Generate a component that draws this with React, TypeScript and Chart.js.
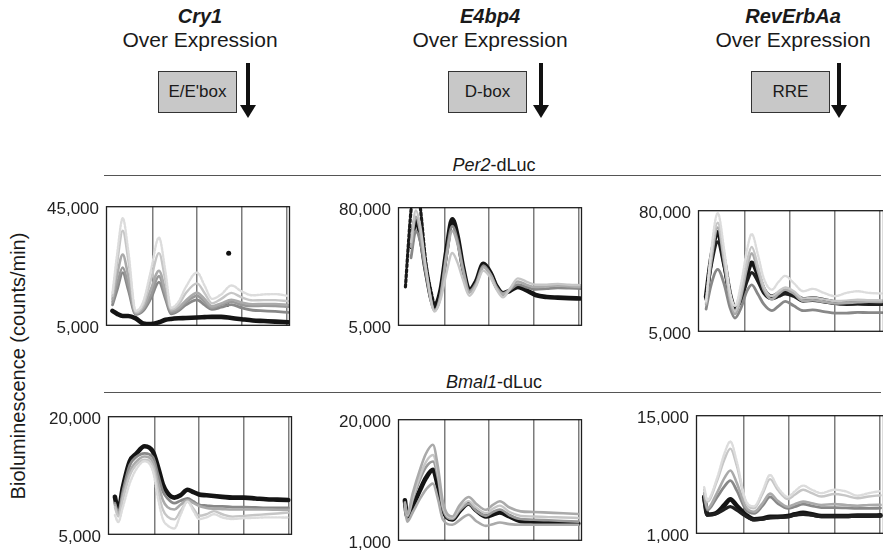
import React, { useEffect, useRef } from "react";
import { Chart, registerables } from "chart.js";
Chart.register(...registerables);

const FONT = '"Liberation Sans", Arial, Helvetica, sans-serif';

// ---------- shared axis data ----------
const GRID_HOURS = [24, 48, 72, 96];
const X_MIN = -1;
const X_MAX = 98;

// ---------- Panel 1: Cry1 over-expression, Per2-dLuc ----------
const p1Hours = [2.5, 5, 8, 11, 15, 19, 23, 27.5, 31, 34, 38, 42, 48, 52, 56, 61, 66.5, 72, 78, 84, 90, 97];
const p1Lightest = [16000, 29000, 41000, 30000, 10000, 13000, 23000, 34500, 23000, 11000, 13000, 18000, 22800, 18500, 14000, 15500, 18500, 16500, 15200, 15500, 15600, 15000];
const p1Light = [15000, 26000, 36800, 27000, 9500, 12000, 20000, 29300, 20000, 10500, 12000, 16000, 19200, 16000, 12500, 14000, 16000, 14500, 13500, 13600, 13600, 13200];
const p1Mid = [14000, 22000, 28800, 21500, 9200, 11000, 17000, 23400, 16500, 10000, 11000, 13500, 16000, 14000, 11500, 12500, 13700, 12800, 12200, 12300, 12300, 12000];
const p1Mid2 = [13000, 19000, 24500, 18500, 9000, 10500, 15000, 21600, 15000, 9500, 10500, 12800, 15000, 13000, 11000, 12000, 13000, 12000, 11600, 11700, 11600, 11400];
const p1Dark = [12000, 17000, 22800, 17000, 8800, 10000, 14000, 19600, 14000, 9000, 10000, 12000, 13700, 12000, 10500, 11200, 12100, 11000, 10200, 10000, 9800, 9500];
const p1Black = [10000, 9000, 8300, 8300, 7500, 5800, 5600, 6200, 7000, 7300, 7500, 7600, 7800, 7900, 8000, 8000, 7600, 7200, 6800, 6600, 6400, 6200];
const p1OutlierHours = [64, 65];
const p1OutlierValues = [12100, 29300];

// ---------- Panel 2: E4bp4 over-expression, Per2-dLuc ----------
const p2Hours = [3, 6, 8.6, 11, 14, 18.7, 22, 25, 28.2, 31, 34, 37.4, 41, 44.9, 49, 52, 55.5, 59, 63.5, 68, 73, 79, 85, 91, 97];
const p2Light = [null, 58000, 78000, 68000, 42000, 14000, 22000, 38000, 51000, 45000, 34000, 24000, 30000, 40000, 35000, 28000, 23000, 28000, 35000, 33000, 31000, 31000, 31500, 31000, 30700];
const p2Mid = [null, 55000, 74000, 64000, 40000, 14500, 24000, 48000, 65000, 57000, 40000, 26000, 31000, 42000, 37000, 29000, 25000, 28000, 33000, 31000, 29500, 30000, 30500, 30000, 29500];
const p2Dark = [null, 48000, 65000, 58000, 38000, 15000, 25000, 50000, 68000, 59000, 41000, 27000, 32000, 43000, 37000, 29500, 25500, 27500, 31000, 29500, 28000, 28500, 29000, 28800, 28500];
const p2Black = [null, 55000, 72300, 62000, 40000, 17500, 28000, 52000, 72300, 62000, 42000, 27600, 33000, 44200, 38000, 30000, 25600, 27000, 29600, 27500, 24500, 23200, 22800, 22500, 22300];
const p2BlackDots = [29600, 78000, 100000, 80000, 45000, 16000, null, null, null, null, null, null, null, null, null, null, null, null, null, null, null, null, null, null, null];

// ---------- Panel 3: RevErbAa over-expression, Per2-dLuc ----------
const p3Hours = [3.3, 6, 9.5, 13, 16, 18.7, 22, 25, 27.6, 31, 34, 38.3, 42, 45.4, 50, 55, 60, 66, 72, 78, 84, 90, 97];
const p3Lightest = [24000, 55000, 78200, 55000, 30000, 21000, 35000, 55000, 65300, 52000, 38000, 31000, 36000, 39500, 35000, 30000, 31500, 29000, 27000, 29000, 30000, 29000, 28600];
const p3Light = [23000, 52000, 72300, 50000, 27000, 18000, 30000, 48000, 57400, 45000, 33000, 27000, 30000, 32400, 30000, 25500, 26000, 25000, 24000, 24200, 24800, 24500, 24400];
const p3Mid = [22000, 48000, 69300, 47000, 25000, 16000, 27000, 44000, 53400, 42000, 31000, 25000, 28500, 31000, 28500, 24000, 24500, 23500, 22500, 22800, 23200, 23500, 23400];
const p3Dark = [19000, 34000, 43500, 34000, 20000, 13500, 20000, 30000, 34000, 28000, 22000, 18000, 21000, 23800, 21000, 18000, 18500, 17500, 16500, 16500, 17000, 16800, 16800];
const p3Black2 = [25000, 46000, 60400, 45000, 27000, 20000, 25000, 36000, 41500, 36000, 29000, 25500, 27000, 28500, 27000, 24000, 24500, 23500, 22500, 22000, 22200, 22000, 22000];
const p3Black = [26600, 50000, 66300, 48000, 28000, 19700, 26000, 40000, 47500, 40000, 31000, 26600, 28500, 30000, 28000, 25000, 25500, 24500, 23000, 22600, 22800, 22600, 22600];

// ---------- Panel 4: Cry1 over-expression, Bmal1-dLuc ----------
const p4Hours = [2.7, 4.5, 7, 10.7, 14, 18.7, 23.2, 26, 28.5, 31, 34.7, 38, 41.8, 45, 48, 52, 56, 60.5, 66, 72, 78.3, 84, 90, 96];
const p4Lightest = [7500, 6600, 8500, 11500, 13200, 14300, 13000, 9500, 7000, 6200, 5800, 7500, 9200, 8000, 7000, 7200, 7600, 7200, 7000, 7100, 7150, 7200, 7200, 7190];
const p4Light = [8500, 7300, 9500, 12500, 13800, 14500, 13600, 10500, 8200, 7300, 6950, 8000, 9200, 8300, 7400, 7600, 8000, 7600, 7300, 7400, 7500, 7600, 7700, 7800];
const p4Mid = [8800, 7600, 10000, 13000, 14200, 14900, 14200, 11500, 9400, 8500, 8200, 8800, 9400, 9000, 8650, 8400, 8300, 8250, 8200, 8200, 8200, 8200, 8170, 8150];
const p4Dark = [9000, 7800, 10500, 13800, 14800, 15300, 14800, 12500, 10500, 9600, 9000, 9300, 9600, 9200, 8800, 8700, 8600, 8600, 8500, 8500, 8450, 8400, 8400, 8400];
const p4Black = [9800, 8000, 11000, 14300, 15200, 16200, 15500, 13500, 11400, 10300, 9700, 10000, 10700, 10400, 10100, 10000, 9900, 9800, 9700, 9700, 9600, 9500, 9450, 9400];

// ---------- Panel 5: E4bp4 over-expression, Bmal1-dLuc ----------
const p5Hours = [2.7, 4, 7, 10.7, 14, 17.8, 20.5, 23.2, 28.2, 32, 37, 41, 46.3, 50, 53.8, 59, 65, 72, 80, 88, 96];
const p5Top = [7000, 5200, 8500, 12000, 14600, 16000, 12500, 7000, 4800, 6500, 7850, 6800, 5830, 6600, 7180, 6200, 5600, 5500, 5400, 5300, 5180];
const p5Light = [6800, 5000, 7800, 11000, 13300, 14400, 11500, 6400, 4600, 6000, 7200, 6200, 5300, 6000, 6500, 5500, 4900, 4800, 4700, 4650, 4560];
const p5Mid = [6600, 4800, 7500, 10500, 12500, 13400, 10800, 6000, 4400, 5700, 6800, 5700, 4900, 5500, 5900, 5000, 4400, 4300, 4200, 4100, 4000];
const p5Bottom = [6000, 4000, 5500, 7500, 9000, 9940, 7500, 4300, 3500, 4200, 5080, 4100, 3330, 3600, 3860, 3600, 3500, 3500, 3500, 3500, 3510];
const p5Black = [7330, 4800, 6500, 8840, 10800, 12100, 9500, 5830, 4320, 5600, 6830, 5800, 4810, 5100, 5420, 4800, 4070, 4000, 3900, 3800, 3710];

// ---------- Panel 6: RevErbAa over-expression, Bmal1-dLuc ----------
const p6Hours = [3.3, 5, 10, 14, 17.1, 20.5, 25.1, 29.6, 34, 38, 42, 47.4, 51, 55.4, 60, 65, 72, 78, 84, 90, 96.2];
const p6Lightest = [6500, 5000, 7500, 10500, 11890, 9500, 5000, 4240, 6000, 7940, 6500, 5360, 6000, 6690, 6200, 5800, 6200, 6000, 5500, 5800, 6050];
const p6Light = [6200, 4800, 7200, 9800, 11060, 9000, 4800, 4000, 5700, 7450, 6200, 5100, 5600, 6200, 5800, 5400, 5700, 5500, 5200, 5400, 5550];
const p6Mid = [5800, 4000, 5800, 7600, 8480, 7000, 4200, 3600, 4600, 5740, 4900, 4200, 4500, 4800, 4600, 4400, 4500, 4400, 4300, 4400, 4410];
const p6Dark = [5500, 3800, 5300, 6600, 7270, 6100, 3900, 3400, 4300, 5360, 4600, 4000, 4200, 4500, 4300, 4100, 4100, 4050, 4000, 4000, 4030];
const p6Black2 = [5000, 3200, 3400, 3900, 4210, 3800, 3100, 2650, 2750, 2900, 2950, 3000, 3200, 3300, 3200, 3050, 3050, 3050, 3100, 3100, 3100];
const p6Black = [5360, 3280, 3500, 4400, 5060, 4300, 3280, 2710, 2800, 3000, 3000, 3090, 3300, 3470, 3300, 3100, 3100, 3100, 3150, 3150, 3170];

// ---------- text ----------
const TITLES = ["Cry1", "E4bp4", "RevErbAa"];
const ELEMENTS = ["E/E'box", "D-box", "RRE"];
const REPORTERS = [
  { italic: "Per2", rest: "-dLuc" },
  { italic: "Bmal1", rest: "-dLuc" },
];
const Y_TITLE = "Bioluminescence (counts/min)";

// ---------- styles ----------
type Sty = { color: string; width: number; dash?: number[] };
const S: Record<string, Sty> = {
  lightest: { color: "#dcdcdc", width: 2.4, dash: [2, 1.5] },
  light: { color: "#c6c6c6", width: 2.4 },
  mid: { color: "#aaaaaa", width: 2.6 },
  mid2: { color: "#999999", width: 2.6 },
  dark: { color: "#888888", width: 2.8 },
  black: { color: "#141414", width: 4.6 },
  black2: { color: "#202020", width: 3.4 },
  blackDots: { color: "#1a1a1a", width: 3.2, dash: [2.5, 2.5] },
};

type Series = { data: (number | null)[]; style: Sty };
type PanelSpec = {
  left: number; top: number; width: number; height: number;
  yMin: number; yMax: number;
  hours: number[];
  series: Series[];
  outliers?: { hours: number[]; values: number[] };
};

const PANELS: PanelSpec[] = [
  {
    left: 106, top: 203, width: 186, height: 124, yMin: 5000, yMax: 45000, hours: p1Hours,
    series: [
      { data: p1Lightest, style: S.lightest }, { data: p1Light, style: S.light },
      { data: p1Mid, style: S.mid }, { data: p1Mid2, style: S.mid2 },
      { data: p1Dark, style: S.dark }, { data: p1Black, style: S.black },
    ],
    outliers: { hours: p1OutlierHours, values: p1OutlierValues },
  },
  {
    left: 398, top: 204, width: 184, height: 123, yMin: 5000, yMax: 80000, hours: p2Hours,
    series: [
      { data: p2Light, style: S.light }, { data: p2Mid, style: S.mid },
      { data: p2Dark, style: S.dark }, { data: p2BlackDots, style: S.blackDots },
      { data: p2Black, style: S.black },
    ],
  },
  {
    left: 698, top: 207, width: 186, height: 126, yMin: 5000, yMax: 80000, hours: p3Hours,
    series: [
      { data: p3Lightest, style: S.lightest }, { data: p3Light, style: S.light },
      { data: p3Mid, style: S.mid }, { data: p3Dark, style: S.dark },
      { data: p3Black2, style: S.black2 }, { data: p3Black, style: S.black },
    ],
  },
  {
    left: 108, top: 413, width: 184, height: 123, yMin: 5000, yMax: 20000, hours: p4Hours,
    series: [
      { data: p4Lightest, style: S.lightest }, { data: p4Light, style: S.light },
      { data: p4Mid, style: S.mid }, { data: p4Dark, style: S.dark },
      { data: p4Black, style: S.black },
    ],
  },
  {
    left: 398, top: 416, width: 184, height: 126, yMin: 1000, yMax: 20000, hours: p5Hours,
    series: [
      { data: p5Top, style: S.mid }, { data: p5Light, style: S.light },
      { data: p5Mid, style: S.mid2 }, { data: p5Bottom, style: S.mid },
      { data: p5Black, style: S.black },
    ],
  },
  {
    left: 696, top: 412, width: 188, height: 123, yMin: 1000, yMax: 15000, hours: p6Hours,
    series: [
      { data: p6Lightest, style: S.lightest }, { data: p6Light, style: S.light },
      { data: p6Mid, style: S.mid }, { data: p6Dark, style: S.dark },
      { data: p6Black2, style: S.black2 }, { data: p6Black, style: S.black },
    ],
  },
];

const Y_AXIS_W = 100;
const PAD_T = 14;
const PAD_B = 16;
const PAD_R = 2;

const boxPlugin = {
  id: "plotBox",
  afterDatasetsDraw(chart: any) {
    const { ctx, chartArea: a } = chart;
    ctx.save();
    ctx.strokeStyle = "#1e1e1e";
    ctx.lineWidth = 1.3;
    ctx.strokeRect(a.left + 0.5, a.top + 0.5, a.right - a.left - 1, a.bottom - a.top - 1);
    ctx.restore();
  },
};

function Panel({ spec }: { spec: PanelSpec }) {
  const ref = useRef<HTMLCanvasElement | null>(null);
  const cw = Y_AXIS_W + spec.width + PAD_R;
  const ch = PAD_T + spec.height + PAD_B;
  useEffect(() => {
    if (!ref.current) return;
    const datasets: any[] = spec.series.map((s) => ({
      data: spec.hours.map((h, i) => ({ x: h, y: s.data[i] })),
      borderColor: s.style.color,
      borderWidth: s.style.width,
      borderDash: s.style.dash || [],
      borderCapStyle: "round",
      borderJoinStyle: "round",
      pointRadius: 0,
      cubicInterpolationMode: "monotone",
      spanGaps: false,
      fill: false,
    }));
    if (spec.outliers) {
      datasets.push({
        data: spec.outliers.hours.map((h, i) => ({ x: h, y: spec.outliers!.values[i] })),
        showLine: false,
        pointRadius: 2.5,
        pointBackgroundColor: "#111",
        pointBorderColor: "#111",
        borderWidth: 0,
      });
    }
    const chart = new Chart(ref.current, {
      type: "line",
      data: { datasets },
      options: {
        animation: false,
        responsive: false,
        maintainAspectRatio: false,
        events: [],
        layout: { padding: { top: PAD_T, right: PAD_R, bottom: PAD_B, left: 0 } },
        plugins: { legend: { display: false }, tooltip: { enabled: false } },
        scales: {
          x: {
            type: "linear",
            min: X_MIN,
            max: X_MAX,
            afterBuildTicks: (ax: any) => { ax.ticks = GRID_HOURS.map((v) => ({ value: v })); },
            afterFit: (ax: any) => { ax.height = 0; },
            ticks: { display: false },
            grid: { color: "#7c7c7c", lineWidth: 1.5, drawTicks: false },
            border: { display: false },
          },
          y: {
            type: "linear",
            min: spec.yMin,
            max: spec.yMax,
            afterBuildTicks: (ax: any) => { ax.ticks = [{ value: spec.yMin }, { value: spec.yMax }]; },
            afterFit: (ax: any) => { ax.width = Y_AXIS_W; },
            ticks: {
              font: { family: FONT, size: 17 },
              color: "#222",
              padding: 7,
              labelOffset: 3,
              callback: (v: any) => Number(v).toLocaleString("en-US"),
            },
            grid: { display: false, drawTicks: false },
            border: { display: false },
          },
        },
      },
      plugins: [boxPlugin],
    } as any);
    return () => chart.destroy();
  }, [spec]);
  return (
    <canvas
      ref={ref}
      width={cw}
      height={ch}
      style={{
        position: "absolute",
        left: spec.left - Y_AXIS_W,
        top: spec.top - PAD_T,
        width: cw,
        height: ch,
      }}
    />
  );
}

const TITLE_CX = [200, 490, 793];
const BOX_LEFT = [158, 448, 751];
const ARROW_X = [248, 541, 839];

export default function App() {
  return (
    <div
      style={{
        position: "absolute",
        left: 0,
        top: 0,
        width: 883,
        height: 552,
        overflow: "hidden",
        background: "#fff",
        fontFamily: FONT,
        color: "#1a1a1a",
      }}
    >
      {TITLES.map((t, i) => (
        <React.Fragment key={t}>
          <div style={{ position: "absolute", left: TITLE_CX[i] - 100, width: 200, top: 4, textAlign: "center", fontSize: 20, lineHeight: "24px", fontWeight: "bold", fontStyle: "italic" }}>{t}</div>
          <div style={{ position: "absolute", left: TITLE_CX[i] - 100, width: 200, top: 28, textAlign: "center", fontSize: 21, lineHeight: "24px" }}>Over Expression</div>
          <div style={{ position: "absolute", left: BOX_LEFT[i], top: 71, width: 79, height: 42, boxSizing: "border-box", background: "#c8c8c8", border: "1.5px solid #333", display: "flex", alignItems: "center", justifyContent: "center", fontSize: 17 }}>{ELEMENTS[i]}</div>
          <div style={{ position: "absolute", left: ARROW_X[i] - 2, top: 63, width: 4, height: 43, background: "#111" }} />
          <div style={{ position: "absolute", left: ARROW_X[i] - 8, top: 105, width: 0, height: 0, borderLeft: "8px solid transparent", borderRight: "8px solid transparent", borderTop: "13px solid #111" }} />
        </React.Fragment>
      ))}

      {REPORTERS.map((r, i) => (
        <React.Fragment key={r.italic}>
          <div style={{ position: "absolute", left: 394, width: 200, top: i === 0 ? 155 : 372, textAlign: "center", fontSize: 18, lineHeight: "20px" }}>
            <i>{r.italic}</i>{r.rest}
          </div>
          <div style={{ position: "absolute", left: 104, width: 777, top: i === 0 ? 175 : 392, height: 0, borderTop: "1.5px solid #555" }} />
        </React.Fragment>
      ))}

      <div style={{ position: "absolute", left: 18 - 200, top: 366 - 12, width: 400, height: 24, lineHeight: "24px", textAlign: "center", fontSize: 20, transform: "rotate(-90deg)" }}>{Y_TITLE}</div>

      {PANELS.map((p, i) => (
        <Panel key={i} spec={p} />
      ))}
    </div>
  );
}
